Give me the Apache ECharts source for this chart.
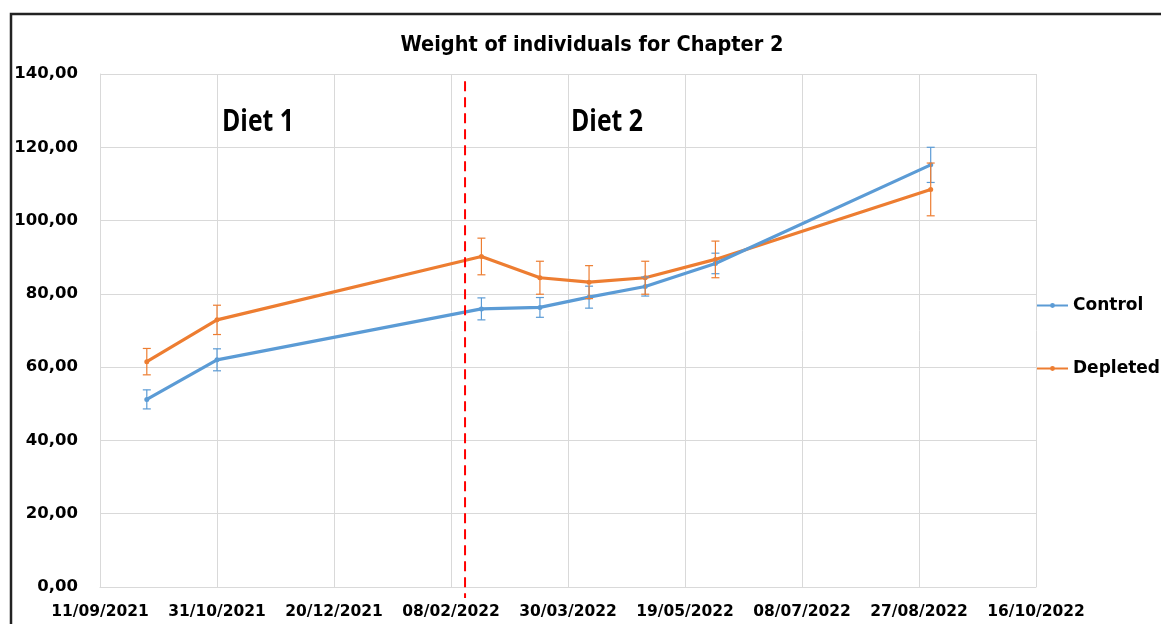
<!DOCTYPE html>
<html>
<head>
<meta charset="utf-8">
<title>Weight of individuals for Chapter 2</title>
<script src="https://cdn.jsdelivr.net/npm/echarts@6/dist/echarts.min.js"></script>
<style>
  html, body { margin: 0; padding: 0; background: #fff; }
  #chart { width: 1161px; height: 624px; }
</style>
</head>
<body>
<div id="chart"></div>
<script>
// Sampling dates (dd/mm/yyyy), shared by both groups
const sampleDates = ['01/10/2021', '31/10/2021', '21/02/2022', '18/03/2022', '08/04/2022', '02/05/2022', '01/06/2022', '01/09/2022'];

// Mean weight and error per sampling date
const controlMean = [51.2, 62.0, 75.9, 76.3, 79.1, 82.0, 88.3, 115.2];
const controlErr = [2.6, 3.0, 3.0, 2.7, 3.0, 2.6, 2.8, 4.8];
const depletedMean = [61.5, 72.9, 90.2, 84.4, 83.2, 84.4, 89.4, 108.5];
const depletedErr = [3.6, 4.0, 5.0, 4.5, 4.5, 4.5, 5.0, 7.2];

// Axis range: first date, last date and step in days
const axisStart = '11/09/2021';
const axisEnd = '16/10/2022';
const axisStepDays = 50;
const yTicks = [0, 20, 40, 60, 80, 100, 120, 140];

// Change of diet
const dietChangeDate = '14/02/2022';
const dietLabels = ['Diet 1', 'Diet 2'];

const DAY = 86400000;
function parseDate(s) {
  const [d, m, y] = s.split('/').map(Number);
  return Date.UTC(y, m - 1, d);
}
const origin = parseDate(axisStart);
function dayIndex(s) { return Math.round((parseDate(s) - origin) / DAY); }
function fmtDay(v) {
  const dt = new Date(origin + v * DAY);
  const dd = String(dt.getUTCDate()).padStart(2, '0');
  const mm = String(dt.getUTCMonth() + 1).padStart(2, '0');
  return dd + '/' + mm + '/' + dt.getUTCFullYear();
}

const xs = sampleDates.map(dayIndex);
const controlData = xs.map((x, i) => [x, controlMean[i]]);
const depletedData = xs.map((x, i) => [x, depletedMean[i]]);
const controlErrData = xs.map((x, i) => [x, controlMean[i], controlErr[i]]);
const depletedErrData = xs.map((x, i) => [x, depletedMean[i], depletedErr[i]]);

const BLUE = '#5B9BD5';
const ORANGE = '#ED7D31';
const TXT = 'DejaVu Sans';
const yMax = yTicks[yTicks.length - 1];
const dividerX = dayIndex(dietChangeDate);

function errorBars(color) {
  return function (params, api) {
    const x = api.value(0), y = api.value(1), e = api.value(2);
    const top = api.coord([x, y + e]);
    const bot = api.coord([x, y - e]);
    const w = 4;
    const st = { stroke: color, lineWidth: 1.2 };
    return {
      type: 'group',
      children: [
        { type: 'line', shape: { x1: top[0], y1: top[1], x2: bot[0], y2: bot[1] }, style: st },
        { type: 'line', shape: { x1: top[0] - w, y1: top[1], x2: top[0] + w, y2: top[1] }, style: st },
        { type: 'line', shape: { x1: bot[0] - w, y1: bot[1], x2: bot[0] + w, y2: bot[1] }, style: st }
      ]
    };
  };
}

// Dashed divider between the two diets, running slightly past the axis
function dividerLine(params, api) {
  const x = api.value(0);
  const top = api.coord([x, yMax - 2]);
  const bot = api.coord([x, yTicks[0]]);
  return {
    type: 'line',
    shape: { x1: top[0], y1: top[1], x2: bot[0], y2: bot[1] + 11 },
    style: { stroke: '#FF0000', lineWidth: 2, lineDash: [10, 6] }
  };
}

function dietText(label, x) {
  return {
    type: 'text', x: x, y: 122, silent: true, scaleX: 0.8, originX: 0, originY: 0,
    style: { text: label, fontFamily: 'Open Sans', fontWeight: 'bold', fontSize: 31, fill: '#000', align: 'center', verticalAlign: 'middle' }
  };
}

const chart = echarts.init(document.getElementById('chart'), null, { renderer: 'canvas' });

chart.setOption({
  animation: false,
  backgroundColor: '#fff',
  title: {
    text: 'Weight of individuals for Chapter 2',
    left: 587, top: 29, textAlign: 'center',
    textStyle: { fontFamily: 'DejaVu Sans Condensed', fontWeight: 'bold', fontSize: 21.5, color: '#000' }
  },
  grid: { left: 100, right: 125, top: 74, bottom: 37 },
  legend: {
    data: ['Control', 'Depleted'],
    orient: 'vertical',
    left: 1036, top: 297, padding: 0,
    itemWidth: 31, itemHeight: 6,
    itemGap: 46,
    textStyle: { fontFamily: TXT, fontWeight: 'bold', fontSize: 17, color: '#000' }
  },
  xAxis: {
    type: 'value',
    min: 0,
    max: dayIndex(axisEnd),
    interval: axisStepDays,
    axisLine: { show: true, lineStyle: { color: '#d9d9d9', width: 1 } },
    axisTick: { show: false },
    splitLine: { show: true, lineStyle: { color: '#d9d9d9', width: 1 } },
    axisLabel: {
      formatter: fmtDay,
      margin: 17,
      showMinLabel: true, showMaxLabel: true,
      fontFamily: TXT, fontWeight: 'bold', fontSize: 15.5, color: '#000'
    }
  },
  yAxis: {
    type: 'value',
    min: yTicks[0], max: yMax, interval: yTicks[1] - yTicks[0],
    axisLine: { show: true, lineStyle: { color: '#d9d9d9', width: 1 } },
    axisTick: { show: false },
    splitLine: { show: true, lineStyle: { color: '#d9d9d9', width: 1 } },
    axisLabel: {
      formatter: v => v.toFixed(2).replace('.', ','),
      margin: 22,
      fontFamily: TXT, fontWeight: 'bold', fontSize: 16.5, color: '#000'
    }
  },
  series: [
    {
      name: 'Control', type: 'line', data: controlData,
      color: BLUE, symbol: 'circle', symbolSize: 5,
      lineStyle: { width: 3.2, color: BLUE }, itemStyle: { color: BLUE },
      z: 4
    },
    {
      name: 'Depleted', type: 'line', data: depletedData,
      color: ORANGE, symbol: 'circle', symbolSize: 5,
      lineStyle: { width: 3.2, color: ORANGE }, itemStyle: { color: ORANGE },
      z: 3
    },
    { name: 'Control error', type: 'custom', data: controlErrData, renderItem: errorBars(BLUE), z: 5, silent: true },
    { name: 'Depleted error', type: 'custom', data: depletedErrData, renderItem: errorBars(ORANGE), z: 5, silent: true },
    { name: 'Diet change', type: 'custom', data: [[dividerX]], renderItem: dividerLine, clip: false, z: 6, silent: true }
  ],
  graphic: [
    {
      type: 'rect', silent: true,
      shape: { x: 11, y: 14, width: 1300, height: 800 },
      style: { fill: 'none', stroke: '#222', lineWidth: 2.5 }
    },
    dietText(dietLabels[0], 258),
    dietText(dietLabels[1], 607)
  ]
});
</script>
</body>
</html>
